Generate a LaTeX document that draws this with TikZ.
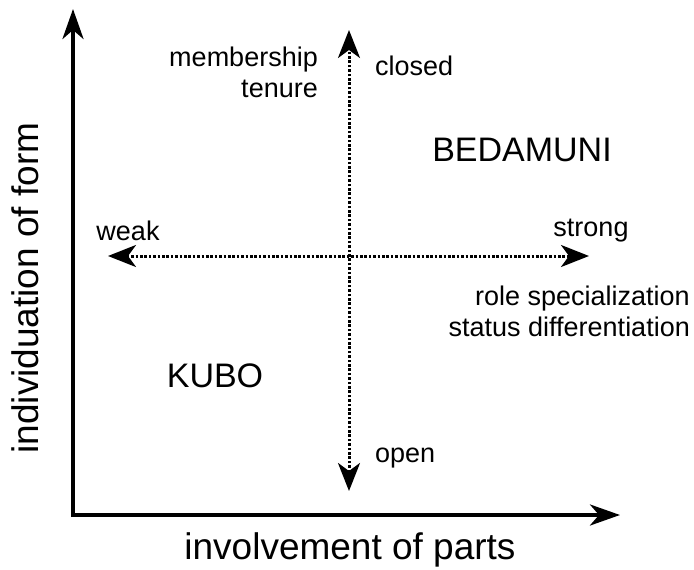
\documentclass[tikz,border=0pt]{standalone}
\usepackage{fontspec}
\setmainfont{Liberation Sans}
\usetikzlibrary{arrows.meta}
\tikzset{
    axis/.style={line width=4pt, -{Stealth[length=30pt, width=21pt, inset=9pt]}},
    dimension/.style={line width=3pt, dash pattern=on 2.6pt off 1.8pt,
        {Stealth[length=28pt, width=22pt, inset=8pt]}-{Stealth[length=28pt, width=22pt, inset=8pt]}},
    small/.style={font=\fontsize{27}{31}\selectfont, inner sep=0pt},
    big/.style={font=\fontsize{34}{40}\selectfont, inner sep=0pt},
    axislabel/.style={font=\fontsize{37}{42}\selectfont, inner sep=0pt}
}
\begin{document}
\begin{tikzpicture}[x=1pt, y=-1pt]
        \useasboundingbox (0, 0) rectangle (694, 570);
        % axes
        \coordinate (origin) at (73, 515);
        \coordinate (ytip) at (73, 9);
        \coordinate (xtip) at (620, 515);
        \draw[axis] ([yshift=-2pt]origin) -- (ytip);
        \draw[axis] ([xshift=-2pt]origin) -- (xtip);
        % the two dimensions
        \coordinate (top) at (349, 30);
        \coordinate (bottom) at (349, 491);
        \coordinate (left) at (108, 256);
        \coordinate (right) at (589, 256);
        \draw[dimension] (bottom) -- (top);
        \draw[dimension] (left) -- (right);
        % labels
        \node[small, anchor=north east, align=right] (member) at (318, 47) {membership\\tenure};
        \node[small, anchor=west] (closed) at (375, 66) {closed};
        \node[small, anchor=west] (open) at (375, 458) {open};
        \node[small] (weak) at (128, 231) {weak};
        \node[small] (strong) at (591, 231) {strong};
        \node[small, anchor=east, align=right] (role) at (690, 311) {role specialization\\status differentiation};
        \node[big] (bedamuni) at (522, 150) {BEDAMUNI};
        \node[big] (kubo) at (215, 376) {KUBO};
        \node[axislabel, rotate=90] (form) at (25, 288) {individuation of form};
        \node[axislabel] (parts) at (350, 550) {involvement of parts};
    \end{tikzpicture}
\end{document}
